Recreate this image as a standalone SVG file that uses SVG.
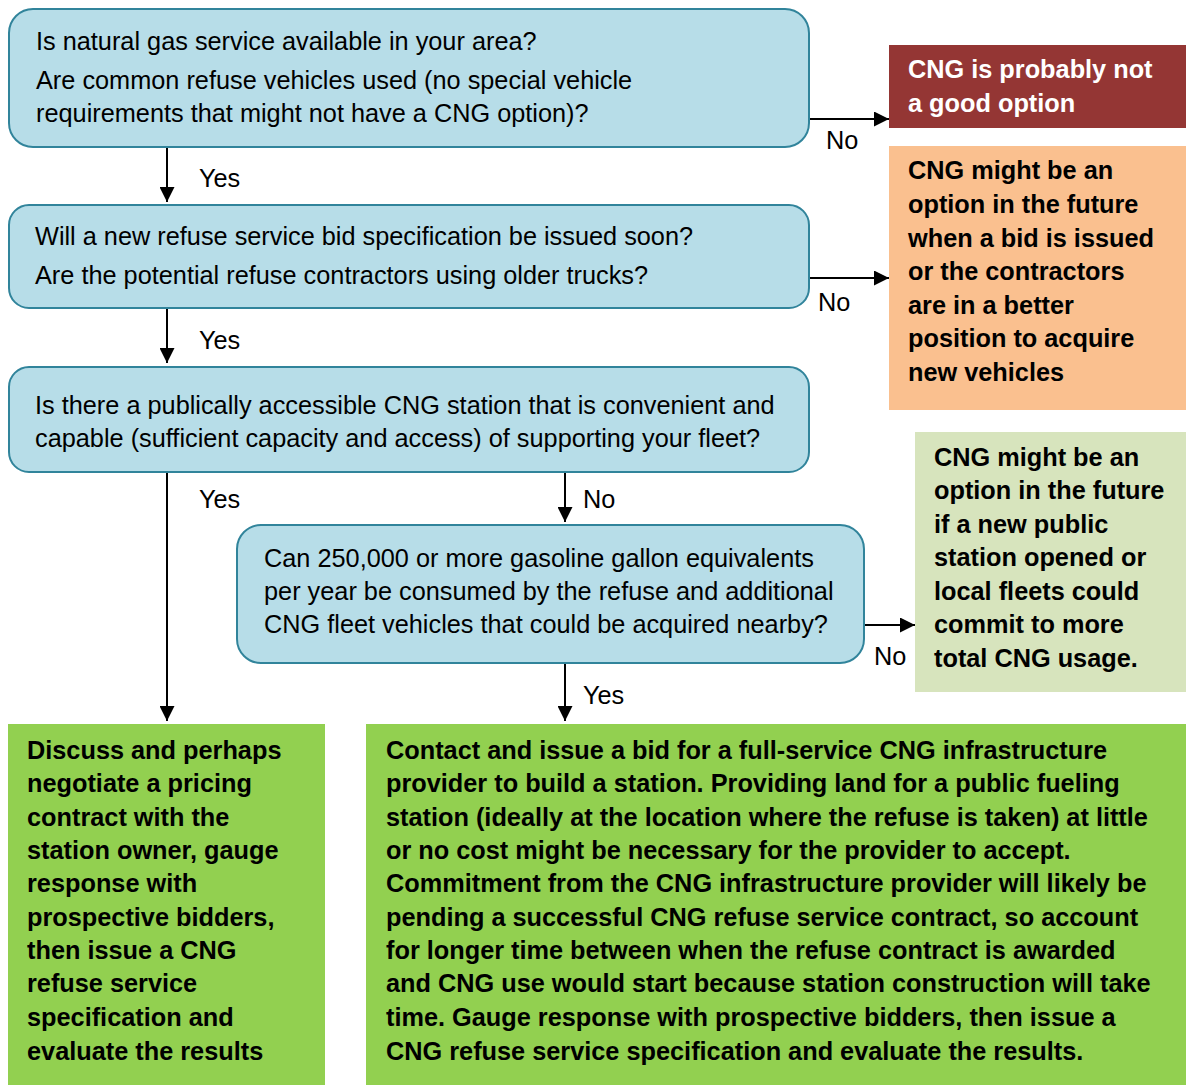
<svg xmlns="http://www.w3.org/2000/svg" width="1186" height="1085" viewBox="0 0 1186 1085">
<style>
text{font-family:"Liberation Sans",Arial,sans-serif;font-size:25.3px;fill:#000}
.q{fill:#b7dde8;stroke:#31849b;stroke-width:2}
.b{font-weight:bold}
.w{fill:#fff}
.c{stroke:#000;stroke-width:2;fill:none;marker-end:url(#ah)}
</style>
<defs>
<marker id="ah" viewBox="0 0 10 10" refX="10" refY="5" markerWidth="15" markerHeight="15" markerUnits="userSpaceOnUse" orient="auto"><path d="M0,0L10,5L0,10z" fill="#000"/></marker>
</defs>
<rect width="1186" height="1085" fill="#fff"/>
<g id="connectors">
<path class="c" d="M167,147V202"/>
<path class="c" d="M806,119H889"/>
<path class="c" d="M167,308V363"/>
<path class="c" d="M806,278H889"/>
<path class="c" d="M167,472V721"/>
<path class="c" d="M565,472V522"/>
<path class="c" d="M864,625H915"/>
<path class="c" d="M565,663V721"/>
<text x="199" y="187">Yes</text>
<text x="826" y="149">No</text>
<text x="199" y="349">Yes</text>
<text x="818" y="311">No</text>
<text x="199" y="508">Yes</text>
<text x="583" y="508">No</text>
<text x="874" y="665">No</text>
<text x="583" y="704">Yes</text>
</g>
<g id="q1">
<rect class="q" x="9" y="9" width="800" height="138" rx="24"/>
<text x="36" y="50">Is natural gas service available in your area?</text>
<text x="36" y="89">Are common refuse vehicles used (no special vehicle</text>
<text x="36" y="122">requirements that might not have a CNG option)?</text>
</g>
<g id="q2">
<rect class="q" x="9" y="205" width="800" height="103" rx="20"/>
<text x="35" y="245">Will a new refuse service bid specification be issued soon?</text>
<text x="35" y="284">Are the potential refuse contractors using older trucks?</text>
</g>
<g id="q3">
<rect class="q" x="9" y="367" width="800" height="105" rx="20"/>
<text x="35" y="414">Is there a publically accessible CNG station that is convenient and</text>
<text x="35" y="447">capable (sufficient capacity and access) of supporting your fleet?</text>
</g>
<g id="q4">
<rect class="q" x="237" y="525" width="627" height="138" rx="24"/>
<text x="264" y="567">Can 250,000 or more gasoline gallon equivalents</text>
<text x="264" y="600">per year be consumed by the refuse and additional</text>
<text x="264" y="633">CNG fleet vehicles that could be acquired nearby?</text>
</g>
<g id="notgood">
<rect x="889" y="45" width="297" height="83" fill="#943634"/>
<text class="b w" x="908" y="78">CNG is probably not</text>
<text class="b w" x="908" y="112">a good option</text>
</g>
<g id="future-bid">
<rect x="889" y="146" width="297" height="264" fill="#fac08f"/>
<text class="b" x="908" y="179">CNG might be an</text>
<text class="b" x="908" y="213">option in the future</text>
<text class="b" x="908" y="247">when a bid is issued</text>
<text class="b" x="908" y="280">or the contractors</text>
<text class="b" x="908" y="314">are in a better</text>
<text class="b" x="908" y="347">position to acquire</text>
<text class="b" x="908" y="381">new vehicles</text>
</g>
<g id="future-station">
<rect x="915" y="432" width="271" height="260" fill="#d7e4bd"/>
<text class="b" x="934" y="466">CNG might be an</text>
<text class="b" x="934" y="499">option in the future</text>
<text class="b" x="934" y="533">if a new public</text>
<text class="b" x="934" y="566">station opened or</text>
<text class="b" x="934" y="600">local fleets could</text>
<text class="b" x="934" y="633">commit to more</text>
<text class="b" x="934" y="667">total CNG usage.</text>
</g>
<g id="discuss">
<rect x="8" y="724" width="317" height="361" fill="#92d050"/>
<text class="b" x="27" y="759">Discuss and perhaps</text>
<text class="b" x="27" y="792">negotiate a pricing</text>
<text class="b" x="27" y="826">contract with the</text>
<text class="b" x="27" y="859">station owner, gauge</text>
<text class="b" x="27" y="892">response with</text>
<text class="b" x="27" y="926">prospective bidders,</text>
<text class="b" x="27" y="959">then issue a CNG</text>
<text class="b" x="27" y="992">refuse service</text>
<text class="b" x="27" y="1026">specification and</text>
<text class="b" x="27" y="1060">evaluate the results</text>
</g>
<g id="contact">
<rect x="366" y="724" width="820" height="361" fill="#92d050"/>
<text class="b" x="386" y="759">Contact and issue a bid for a full-service CNG infrastructure</text>
<text class="b" x="386" y="792">provider to build a station. Providing land for a public fueling</text>
<text class="b" x="386" y="826">station (ideally at the location where the refuse is taken) at little</text>
<text class="b" x="386" y="859">or no cost might be necessary for the provider to accept.</text>
<text class="b" x="386" y="892">Commitment from the CNG infrastructure provider will likely be</text>
<text class="b" x="386" y="926">pending a successful CNG refuse service contract, so account</text>
<text class="b" x="386" y="959">for longer time between when the refuse contract is awarded</text>
<text class="b" x="386" y="992">and CNG use would start because station construction will take</text>
<text class="b" x="386" y="1026">time. Gauge response with prospective bidders, then issue a</text>
<text class="b" x="386" y="1060">CNG refuse service specification and evaluate the results.</text>
</g>
</svg>
